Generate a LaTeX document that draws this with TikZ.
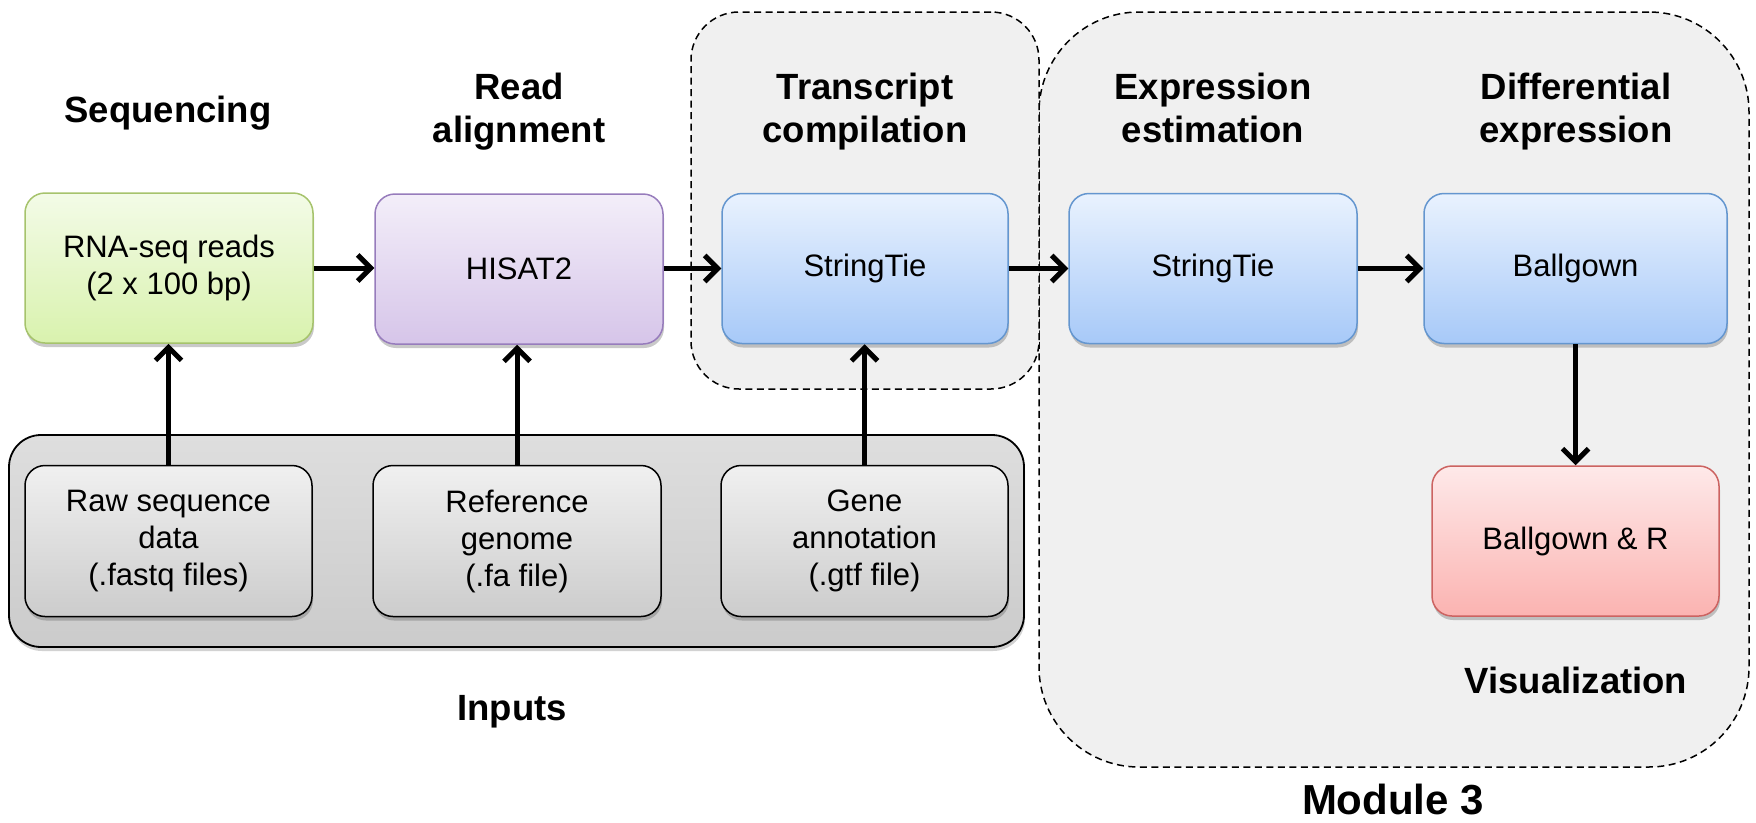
\documentclass[tikz,border=0pt]{standalone}
\usepackage{fontspec}
\setmainfont{Liberation Sans}
\usetikzlibrary{arrows.meta,shadows}
\definecolor{gtop}{HTML}{F3FBE7}
\definecolor{gbot}{HTML}{D9F2AE}
\definecolor{gbrd}{HTML}{A6C36C}
\definecolor{ptop}{HTML}{F3EEF9}
\definecolor{pbot}{HTML}{D6C5E9}
\definecolor{pbrd}{HTML}{977CBC}
\definecolor{btop}{HTML}{E9F2FE}
\definecolor{bbot}{HTML}{A7C9F8}
\definecolor{bbrd}{HTML}{6496CF}
\definecolor{rtop}{HTML}{FEE9E9}
\definecolor{rbot}{HTML}{FBB3B1}
\definecolor{rbrd}{HTML}{CC6361}
\definecolor{ktop}{HTML}{F0F0F0}
\definecolor{kbot}{HTML}{CCCCCC}
\definecolor{itop}{HTML}{DEDEDE}
\definecolor{ibot}{HTML}{CBCBCB}
\definecolor{dfill}{HTML}{F0F0F0}
\begin{document}
\begin{tikzpicture}[x=1pt,y=-1pt,
  stepbox/.style={rounded corners=20pt, minimum height=150pt, minimum width=288pt,
    inner sep=0pt, align=center, font=\fontsize{31}{37}\selectfont, line width=1.5pt,
    drop shadow={shadow xshift=1pt, shadow yshift=-4pt, opacity=0.3, fill=black!70}},
  greenbox/.style={stepbox, draw=gbrd, top color=gtop, bottom color=gbot},
  purplebox/.style={stepbox, draw=pbrd, top color=ptop, bottom color=pbot},
  bluebox/.style={stepbox, draw=bbrd, top color=btop, bottom color=bbot},
  redbox/.style={stepbox, draw=rbrd, top color=rtop, bottom color=rbot},
  graybox/.style={stepbox, draw=black, top color=ktop, bottom color=kbot},
  dashregion/.style={draw=black, dashed, dash pattern=on 7pt off 4.5pt, line width=1.5pt, fill=dfill, inner sep=0pt},
  inputregion/.style={draw=black, line width=1.8pt, rounded corners=32pt, top color=itop, bottom color=ibot, inner sep=0pt,
    drop shadow={shadow xshift=1pt, shadow yshift=-4pt, opacity=0.25, fill=black!70}},
  head/.style={font=\fontsize{36.5}{42.5}\selectfont\bfseries, align=center, inner sep=0pt},
  flow/.style={line width=5pt, -{Straight Barb[length=13pt,width=26pt,line width=5pt]}}
]
\useasboundingbox (0,0) rectangle (1756,822);

% dashed regions
\node[dashregion, rounded corners=100pt, minimum width=710pt, minimum height=755pt] (module) at (1394,389.5) {};
\node[dashregion, rounded corners=48pt, minimum width=348pt, minimum height=377pt] (tcreg) at (865,200.5) {};

% inputs region
\node[inputregion, minimum width=1015pt, minimum height=212pt] (inreg) at (516.5,541) {};

% headings
\node[head, anchor=base] (hseq) at (168,122) {Sequencing};
\node[head, anchor=north] (hread) at (519,73) {Read\\alignment};
\node[head, anchor=north] (htc) at (865,73) {Transcript\\compilation};
\node[head, anchor=north] (hexp) at (1213,73) {Expression\\estimation};
\node[head, anchor=north] (hdiff) at (1576,73) {Differential\\expression};
\node[head, anchor=base] (hvis) at (1576,693) {Visualization};
\node[head, anchor=base] (hin) at (512,720) {Inputs};
\node[font=\fontsize{42}{48}\selectfont\bfseries, anchor=base, inner sep=0pt] (hmod) at (1393,814) {Module 3};

% top row
\node[greenbox] (rna) at (169,268) {RNA-seq reads\\(2 x 100 bp)};
\node[purplebox] (hisat) at (519,269) {HISAT2};
\node[bluebox, minimum width=286pt] (st1) at (865,268.5) {StringTie};
\node[bluebox, minimum width=288pt] (st2) at (1213,268.5) {StringTie};
\node[bluebox, minimum width=303pt] (ball) at (1575.5,268.5) {Ballgown};
\node[redbox, minimum width=287pt] (ballr) at (1575.5,541) {Ballgown \& R};

% input boxes
\node[graybox, minimum width=287pt, minimum height=151pt] (raw) at (168.5,541) {Raw sequence\\data\\(.fastq files)};
\node[graybox, minimum width=288pt, minimum height=151pt] (ref) at (517,541) {Reference\\genome\\(.fa file)};
\node[graybox, minimum width=287pt, minimum height=151pt] (gene) at (864.5,541) {Gene\\annotation\\(.gtf file)};

% connectors
\draw[flow] (rna.east) -- (hisat.west |- rna.east);
\draw[flow] (hisat.east |- st1.west) -- (st1.west);
\draw[flow] (st1.east) -- (st2.west);
\draw[flow] (st2.east) -- (ball.west);
\draw[flow] (ball.south) -- (ballr.north);
\draw[flow] (raw.north) -- (raw.north |- rna.south);
\draw[flow] (ref.north) -- (ref.north |- hisat.south);
\draw[flow] (gene.north) -- (gene.north |- st1.south);
\end{tikzpicture}
\end{document}
